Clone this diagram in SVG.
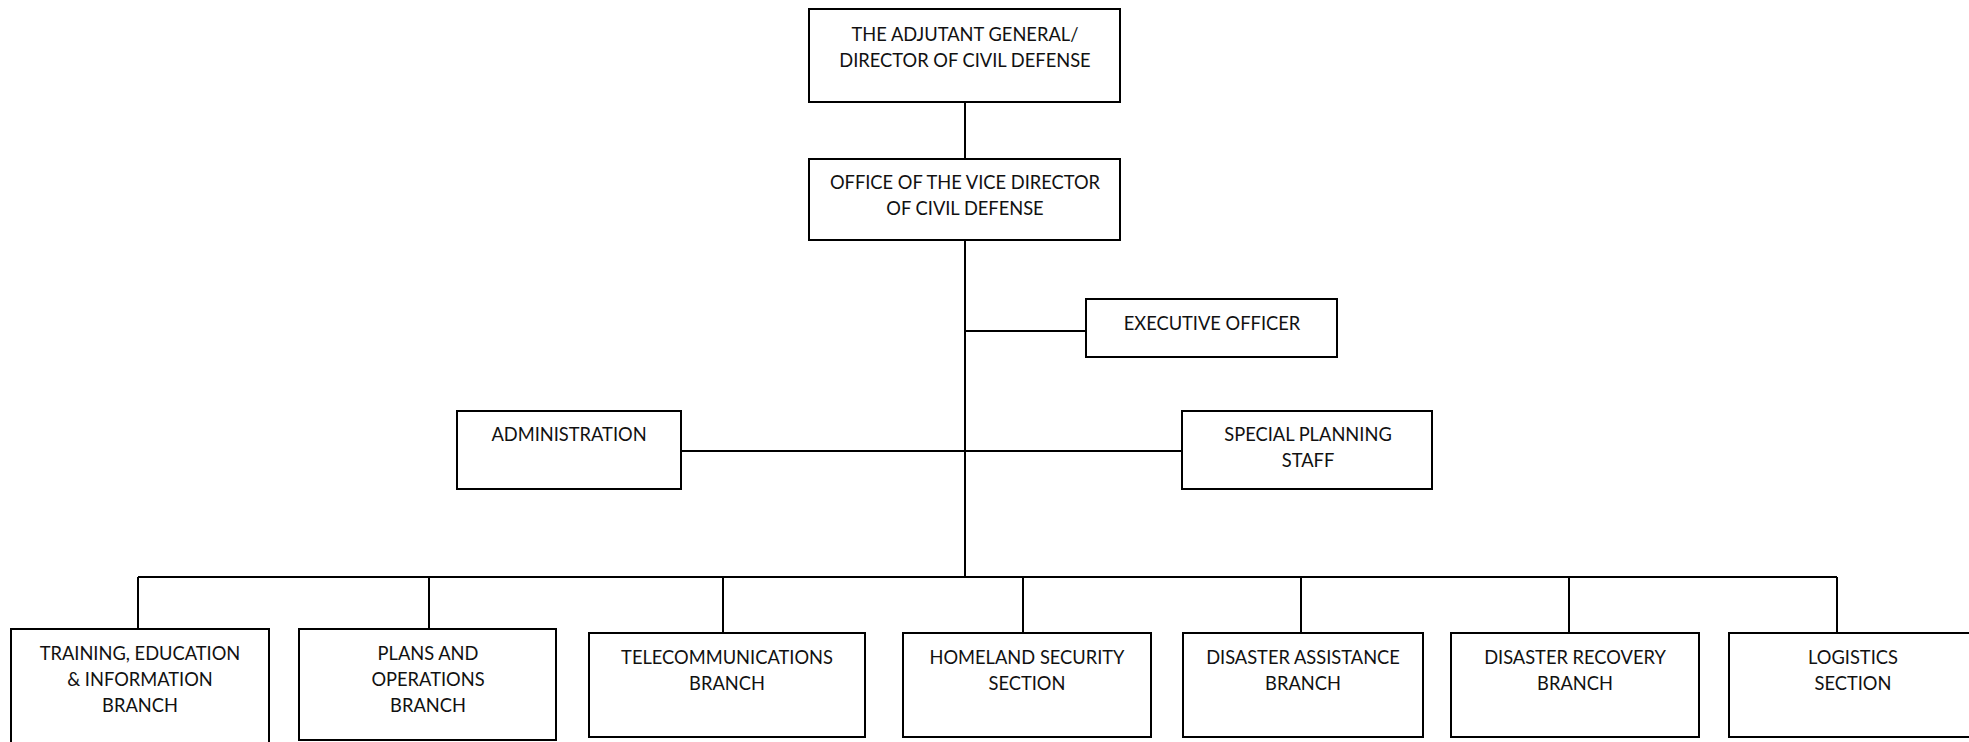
<svg xmlns="http://www.w3.org/2000/svg" width="1969" height="742" viewBox="0 0 1969 742">
  <style>
    .box { fill: #ffffff; stroke: #000000; stroke-width: 2; }
    .link { fill: none; stroke: #000000; stroke-width: 2; }
    .label { font-family: Lato, "Open Sans", "Liberation Sans", sans-serif; font-size: 18.3px; fill: #111111; text-anchor: middle; }
  </style>
  <rect x="0" y="0" width="1969" height="742" fill="#ffffff"/>

  <!-- reporting lines -->
  <g id="connectors">
    <path class="link" d="M965,102 V159"/>
    <path class="link" d="M965,240 V577"/>
    <path class="link" d="M965,331 H1086"/>
    <path class="link" d="M681,451 H1182"/>
    <path class="link" d="M138,577 H1837"/>
    <path class="link" d="M138,577 V629"/>
    <path class="link" d="M429,577 V629"/>
    <path class="link" d="M723,577 V633"/>
    <path class="link" d="M1023,577 V633"/>
    <path class="link" d="M1301,577 V633"/>
    <path class="link" d="M1569,577 V633"/>
    <path class="link" d="M1837,577 V633"/>
  </g>

  <g id="adjutant-general">
    <rect class="box" x="809" y="9" width="311" height="93"/>
    <text class="label" x="965" y="41">THE ADJUTANT GENERAL/</text>
    <text class="label" x="965" y="67">DIRECTOR OF CIVIL DEFENSE</text>
  </g>

  <g id="vice-director">
    <rect class="box" x="809" y="159" width="311" height="81"/>
    <text class="label" x="965" y="189">OFFICE OF THE VICE DIRECTOR</text>
    <text class="label" x="965" y="215">OF CIVIL DEFENSE</text>
  </g>

  <g id="executive-officer">
    <rect class="box" x="1086" y="299" width="251" height="58"/>
    <text class="label" x="1212" y="330">EXECUTIVE OFFICER</text>
  </g>

  <g id="administration">
    <rect class="box" x="457" y="411" width="224" height="78"/>
    <text class="label" x="569" y="441">ADMINISTRATION</text>
  </g>

  <g id="special-planning-staff">
    <rect class="box" x="1182" y="411" width="250" height="78"/>
    <text class="label" x="1308" y="441">SPECIAL PLANNING</text>
    <text class="label" x="1308" y="467">STAFF</text>
  </g>

  <g id="training-education-information">
    <rect class="box" x="11" y="629" width="258" height="116"/>
    <text class="label" x="140" y="660">TRAINING, EDUCATION</text>
    <text class="label" x="140" y="686">&amp; INFORMATION</text>
    <text class="label" x="140" y="712">BRANCH</text>
  </g>

  <g id="plans-operations">
    <rect class="box" x="299" y="629" width="257" height="111"/>
    <text class="label" x="428" y="660">PLANS AND</text>
    <text class="label" x="428" y="686">OPERATIONS</text>
    <text class="label" x="428" y="712">BRANCH</text>
  </g>

  <g id="telecommunications">
    <rect class="box" x="589" y="633" width="276" height="104"/>
    <text class="label" x="727" y="664">TELECOMMUNICATIONS</text>
    <text class="label" x="727" y="690">BRANCH</text>
  </g>

  <g id="homeland-security">
    <rect class="box" x="903" y="633" width="248" height="104"/>
    <text class="label" x="1027" y="664">HOMELAND SECURITY</text>
    <text class="label" x="1027" y="690">SECTION</text>
  </g>

  <g id="disaster-assistance">
    <rect class="box" x="1183" y="633" width="240" height="104"/>
    <text class="label" x="1303" y="664">DISASTER ASSISTANCE</text>
    <text class="label" x="1303" y="690">BRANCH</text>
  </g>

  <g id="disaster-recovery">
    <rect class="box" x="1451" y="633" width="248" height="104"/>
    <text class="label" x="1575" y="664">DISASTER RECOVERY</text>
    <text class="label" x="1575" y="690">BRANCH</text>
  </g>

  <g id="logistics">
    <rect class="box" x="1729" y="633" width="248" height="104"/>
    <text class="label" x="1853" y="664">LOGISTICS</text>
    <text class="label" x="1853" y="690">SECTION</text>
  </g>
</svg>
